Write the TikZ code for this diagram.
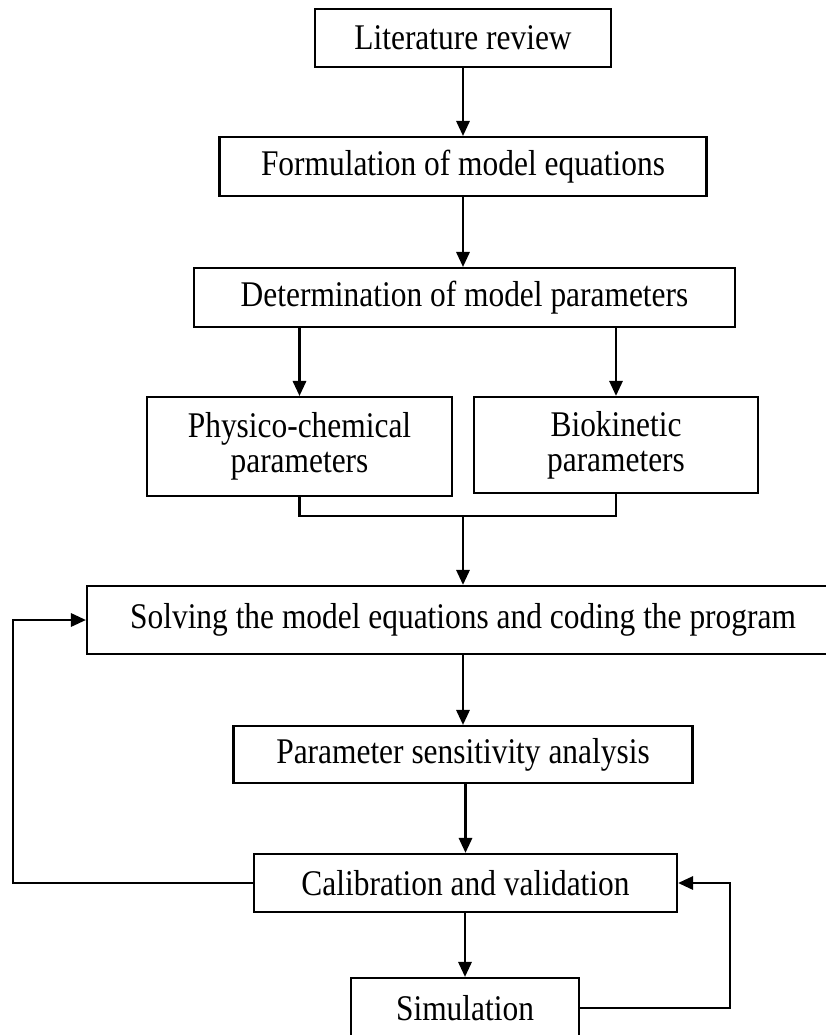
\documentclass[tikz,border=0pt]{standalone}
\usepackage{fontspec}
\setmainfont{Liberation Serif}[FakeStretch=0.87]
\usepackage{tikz}
\usetikzlibrary{arrows.meta}
\tikzset{ proc_box/.style = {rectangle, draw, line width=0.8pt, align=center, inner sep=0pt, font=\fontsize{13}{12.6}\selectfont} }
\tikzset{ flow/.style = {line width=0.8pt, -{Triangle[length=5.4pt, width=4.8pt]}} }
\tikzset{ plain_line/.style = {line width=0.8pt} }

\begin{document}
\begin{tikzpicture}[x=0.36pt, y=-0.36pt]
            \useasboundingbox (0,0) rectangle (826,1035);
            \node[proc_box, minimum width=106.6pt, minimum height=20.9pt] (lit) at (463, 38) {Literature review};
            \node[proc_box, minimum width=175.3pt, minimum height=21.2pt] (form) at (463, 166.5) {Formulation of model equations};
            \node[proc_box, minimum width=194.8pt, minimum height=21.2pt] (det) at (464.5, 297.5) {Determination of model parameters};
            \node[proc_box, minimum width=109.8pt, minimum height=35.6pt] (phys) at (299.5, 446.5) {Physico-chemical\\parameters};
            \node[proc_box, minimum width=102.2pt, minimum height=34.6pt] (bio) at (616, 445) {Biokinetic\\parameters};
            \node[proc_box, minimum width=270.7pt, minimum height=24.5pt] (solve) at (463, 620) {Solving the model equations and coding the program};
            \node[proc_box, minimum width=165.2pt, minimum height=20.5pt] (param) at (463, 754.5) {Parameter sensitivity analysis};
            \node[proc_box, minimum width=152.3pt, minimum height=20.9pt] (calib) at (465.5, 883) {Calibration and validation};
            \node[proc_box, minimum width=82.1pt, minimum height=21.6pt] (sim) at (465, 1008) {Simulation};
            \coordinate (join) at (463, 516);
            \coordinate (left_turn) at (13, 0);
            \coordinate (right_turn) at (730, 0);
            \draw[flow] (lit) to (form);
            \draw[flow] (form) to (form |- det.north);
            \draw[flow] (det.south -| phys.north) to (phys.north);
            \draw[flow] (det.south -| bio.north) to (bio.north);
            \draw[plain_line] (phys.south) |- (join) -| (bio.south);
            \draw[flow] (join) to (join |- solve.north);
            \draw[flow] (solve) to (param);
            \draw[flow] (param.south -| calib.north) to (calib.north);
            \draw[flow] (calib.south -| sim.north) to (sim.north);
            \draw[flow] (calib.west) -- (calib.west -| left_turn) |- (solve.west);
            \draw[flow] (sim.east) -- (sim.east -| right_turn) |- (calib.east);
        \end{tikzpicture}
\end{document}
